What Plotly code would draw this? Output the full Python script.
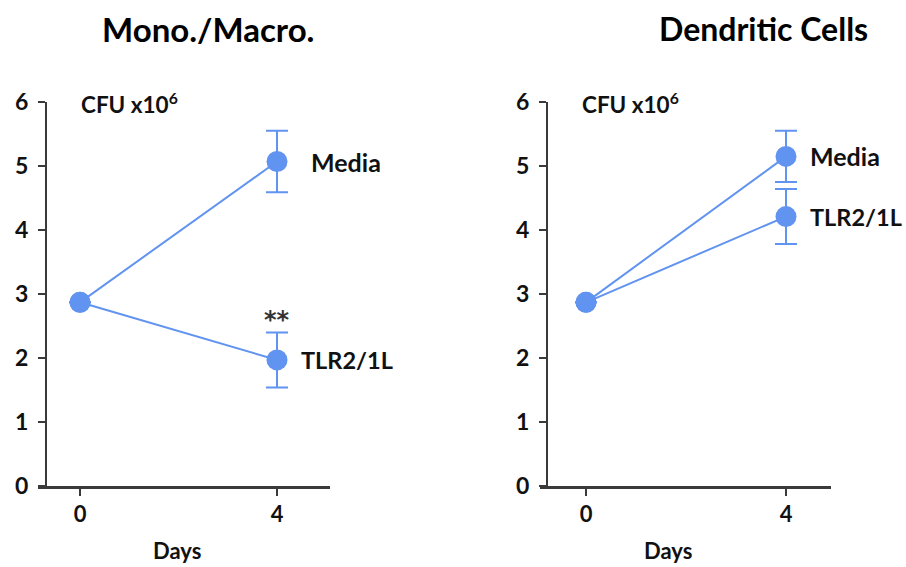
import plotly.graph_objects as go

days = [0, 4]
tick_vals_y = [0, 1, 2, 3, 4, 5, 6]
tick_vals_x = [0, 4]

# Mono./Macro.
mm_media = [2.87, 5.07]
mm_media_err = [0.0, 0.48]
mm_tlr = [2.87, 1.97]
mm_tlr_err = [0.0, 0.43]

# Dendritic cells
dc_media = [2.87, 5.15]
dc_media_err = [0.0, 0.40]
dc_tlr = [2.87, 4.21]
dc_tlr_err = [0.0, 0.43]

panel_titles = ["Mono./Macro.", "Dendritic Cells"]
series_names = ["Media", "TLR2/1L"]
y_label = "CFU x10<sup>6</sup>"
x_label = "Days"
sig_mark = "**"

BLUE = "#6193F0"
AX = "#3a3a3a"
FONT = "Lato"
W, H = 906, 567


def bold(size, color="#111", family=FONT):
    return dict(family=family, size=size, color=color, weight="bold")


fig = go.Figure()

panels = [
    dict(media=mm_media, merr=mm_media_err, tlr=mm_tlr, terr=mm_tlr_err,
         xdom=[38 / W, 330 / W], xr=[-0.853, 5.076], ypos=46 / W, sfx="", sig=True,
         title_x=208 / W, days_x=177 / W, title_size=33),
    dict(media=dc_media, merr=dc_media_err, tlr=dc_tlr, terr=dc_tlr_err,
         xdom=[540 / W, 831 / W], xr=[-0.92, 4.9], ypos=547 / W, sfx="2", sig=False,
         title_x=763 / W, days_x=668 / W, title_size=32),
]

ydom = [1 - 486 / H, 1 - 102 / H]

for i, p in enumerate(panels):
    xa = "x" + p["sfx"]
    ya = "y" + p["sfx"]
    for vals, errs in [(p["media"], p["merr"]), (p["tlr"], p["terr"])]:
        fig.add_trace(go.Scatter(
            x=days, y=vals, xaxis=xa, yaxis=ya, mode="lines+markers",
            line=dict(color=BLUE, width=2),
            marker=dict(color=BLUE, size=21),
            error_y=dict(type="data", array=errs, visible=True, color=BLUE,
                         thickness=2, width=11),
            showlegend=False, cliponaxis=False,
        ))
    # series labels
    fig.add_annotation(x=days[1], y=p["media"][1], xref=xa, yref=ya, text=series_names[0],
                       showarrow=False, xanchor="left", yanchor="middle",
                       xshift=32 if i == 0 else 22, font=bold(25))
    fig.add_annotation(x=days[1], y=p["tlr"][1], xref=xa, yref=ya, text=series_names[1],
                       showarrow=False, xanchor="left", yanchor="middle",
                       xshift=22 if i == 0 else 22, font=bold(23.5))
    if p["sig"]:
        fig.add_annotation(x=days[1], y=p["tlr"][1] + p["terr"][1], xref=xa, yref=ya,
                           text=sig_mark, showarrow=False, xanchor="center", yanchor="bottom",
                           yshift=-4, font=bold(24, "#333", "DejaVu Sans"))
    # y label inside top
    fig.add_annotation(x=p["ypos"] + 33 / W, y=1 - 103 / H, xref="paper", yref="paper",
                       text=y_label, showarrow=False, xanchor="left", yanchor="middle",
                       font=bold(22.5))
    # panel title
    fig.add_annotation(x=p["title_x"], y=1 - 29 / H, xref="paper", yref="paper",
                       text=panel_titles[i], showarrow=False, xanchor="center",
                       yanchor="middle", font=bold(p["title_size"], "#000"))
    # x axis title
    fig.add_annotation(x=p["days_x"], y=1 - 550 / H, xref="paper", yref="paper",
                       text=x_label, showarrow=False, xanchor="center",
                       yanchor="middle", font=bold(22))

for i, p in enumerate(panels):
    xk = "xaxis" + p["sfx"]
    yk = "yaxis" + p["sfx"]
    fig.layout[xk] = dict(
        domain=p["xdom"], range=p["xr"], anchor="y" + p["sfx"], automargin=False,
        showline=True, linecolor=AX, linewidth=3, showgrid=False, zeroline=False,
        tickmode="array", tickvals=tick_vals_x, ticks="outside", ticklen=7,
        tickwidth=1.5, tickcolor=AX, tickfont=bold(22),
        fixedrange=True,
    )
    fig.layout[yk] = dict(
        domain=ydom, range=[0, 6], anchor="free", position=p["ypos"], automargin=False,
        showline=True, linecolor=AX, linewidth=2, showgrid=False, zeroline=False,
        tickmode="array", tickvals=tick_vals_y, ticks="outside", ticklen=7,
        tickwidth=1.5, tickcolor=AX, tickfont=bold(23), ticklabelstandoff=5,
        fixedrange=True,
    )

fig.update_layout(
    width=W, height=H, margin=dict(l=0, r=0, t=0, b=0, autoexpand=False),
    paper_bgcolor="white", plot_bgcolor="white",
    font=dict(family=FONT, color="#111"),
)

fig.write_html("out.html", config={"displayModeBar": False},
               post_script="document.body.style.margin='0px';document.body.style.overflow='hidden';")
